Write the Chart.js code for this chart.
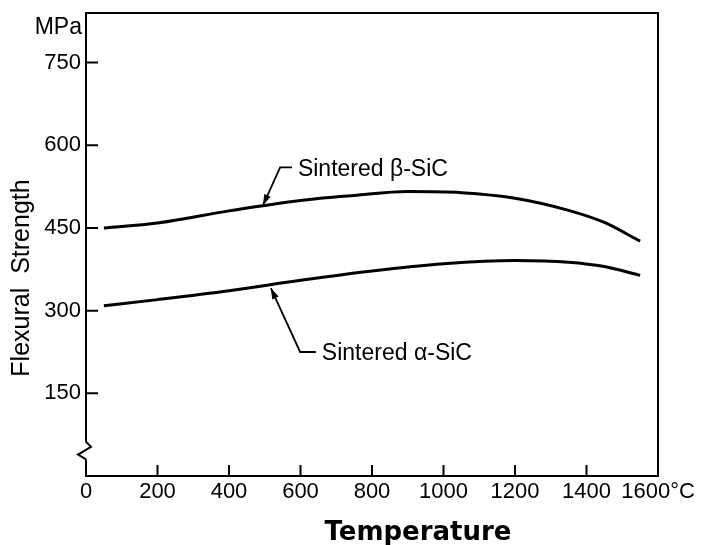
<!DOCTYPE html>
<html lang="en">
<head>
<meta charset="UTF-8">
<title>Flexural Strength vs Temperature</title>
<script src="https://cdn.jsdelivr.net/npm/chart.js"></script>
<style>
  html, body { margin: 0; padding: 0; background: #fff; }
</style>
</head>
<body>
<canvas id="grafico" width="701" height="545"></canvas>
<script>
// values: temperature in °C, flexural strength in MPa
const betaTemp = [50, 200, 400, 600, 750, 900, 1050, 1200, 1350, 1450, 1550];
const betaStrength = [450, 459, 481, 500, 509, 516, 514, 504, 482, 460, 426];
const alphaTemp = [50, 200, 400, 600, 800, 1000, 1200, 1350, 1450, 1550];
const alphaStrength = [309, 320, 336, 355, 372, 385, 391, 388, 380, 364];

const xTicks = [0, 200, 400, 600, 800, 1000, 1200, 1400, 1600];
const yTicks = [150, 300, 450, 600, 750];

// leader lines: [temperature, MPa] from the label to the arrow tip
const notes = [
  { text: 'Sintered β-SiC', path: [[576, 560], [543, 560], [495, 491]] },
  { text: 'Sintered α-SiC', path: [[643, 225], [599, 225], [517, 341]] }
];

const toPoints = (xs, ys) => xs.map((t, i) => ({ x: t, y: ys[i] }));

// box, inward ticks, axis break, notes and titles
const decor = {
  id: 'decor',
  afterDraw(chart) {
    const { ctx, chartArea: a, scales: { x, y } } = chart;
    ctx.save();
    ctx.strokeStyle = '#000';
    ctx.fillStyle = '#000';
    ctx.lineWidth = 2;
    ctx.strokeRect(a.left, a.top, a.right - a.left, a.bottom - a.top);

    ctx.beginPath();
    y.ticks.forEach(t => {
      const py = y.getPixelForValue(t.value);
      ctx.moveTo(a.left, py);
      ctx.lineTo(a.left + 12, py);
    });
    x.ticks.forEach(t => {
      if (t.value <= x.min || t.value >= x.max) return;
      const px = x.getPixelForValue(t.value);
      ctx.moveTo(px, a.bottom);
      ctx.lineTo(px, a.bottom - 11);
    });
    ctx.stroke();

    // zigzag break on the y axis
    const b1 = y.getPixelForValue(62), b2 = y.getPixelForValue(30);
    const h = b2 - b1;
    ctx.fillStyle = '#fff';
    ctx.fillRect(a.left - 3, b1, 6, h);
    ctx.fillStyle = '#000';
    ctx.beginPath();
    ctx.moveTo(a.left, b1);
    ctx.lineTo(a.left + 5, b1 + h * 0.28);
    ctx.lineTo(a.left - 8, b1 + h * 0.72);
    ctx.lineTo(a.left, b2);
    ctx.stroke();

    // annotations with arrows
    ctx.lineWidth = 1.8;
    ctx.font = '23px "Liberation Sans"';
    ctx.textBaseline = 'middle';
    ctx.textAlign = 'left';
    notes.forEach(n => {
      const p = n.path.map(([t, v]) => [x.getPixelForValue(t), y.getPixelForValue(v)]);
      ctx.beginPath();
      ctx.moveTo(p[0][0], p[0][1]);
      for (let i = 1; i < p.length; i++) ctx.lineTo(p[i][0], p[i][1]);
      ctx.stroke();
      const [tx, ty] = p[p.length - 1];
      const [fx, fy] = p[p.length - 2];
      const ang = Math.atan2(ty - fy, tx - fx);
      ctx.beginPath();
      ctx.moveTo(tx, ty);
      ctx.lineTo(tx - 11 * Math.cos(ang) + 3.5 * Math.sin(ang), ty - 11 * Math.sin(ang) - 3.5 * Math.cos(ang));
      ctx.lineTo(tx - 11 * Math.cos(ang) - 3.5 * Math.sin(ang), ty - 11 * Math.sin(ang) + 3.5 * Math.cos(ang));
      ctx.closePath();
      ctx.fill();
      ctx.fillText(n.text, p[0][0] + 6, p[0][1] + 2);
    });

    // titles
    ctx.font = '23px "Liberation Sans"';
    ctx.textAlign = 'right';
    ctx.fillText('MPa', 82, 28);

    ctx.save();
    ctx.translate(22, 278);
    ctx.rotate(-Math.PI / 2);
    ctx.textAlign = 'center';
    ctx.font = '25px "Liberation Sans"';
    ctx.fillText('Flexural  Strength', 0, 0);
    ctx.restore();

    ctx.textAlign = 'center';
    ctx.font = 'bold 26px "DejaVu Sans"';
    ctx.fillText('Temperature', 418, 533);
    ctx.restore();
  }
};

Chart.defaults.font.family = '"Liberation Sans", Arial, sans-serif';
Chart.defaults.color = '#000';

const lineStyle = {
  borderColor: '#000',
  borderWidth: 3,
  pointRadius: 0,
  fill: false,
  cubicInterpolationMode: 'monotone'
};

new Chart(document.getElementById('grafico'), {
  type: 'line',
  data: {
    datasets: [
      { label: 'Sintered β-SiC', data: toPoints(betaTemp, betaStrength), ...lineStyle },
      { label: 'Sintered α-SiC', data: toPoints(alphaTemp, alphaStrength), ...lineStyle }
    ]
  },
  options: {
    responsive: false,
    animation: false,
    devicePixelRatio: 1,
    layout: { padding: { left: 0, top: 13, right: 43, bottom: 0 } },
    plugins: { legend: { display: false }, tooltip: { enabled: false } },
    scales: {
      x: {
        type: 'linear',
        min: 0,
        max: 1600,
        afterBuildTicks: s => { s.ticks = xTicks.map(v => ({ value: v })); },
        afterFit: s => { s.height = 69; s.paddingLeft = 0; s.paddingRight = 0; },
        grid: { display: false, drawTicks: false },
        border: { display: false },
        ticks: {
          padding: 3,
          maxRotation: 0,
          autoSkip: false,
          font: { size: 22 },
          callback: v => (v === 1600 ? '1600°C' : v)
        }
      },
      y: {
        min: 0,
        max: 840,
        afterBuildTicks: s => { s.ticks = yTicks.map(v => ({ value: v })); },
        afterFit: s => { s.width = 86; s.paddingTop = 0; s.paddingBottom = 0; },
        grid: { display: false, drawTicks: false },
        border: { display: false },
        ticks: { padding: 5, font: { size: 22 } }
      }
    }
  },
  plugins: [decor]
});
</script>
</body>
</html>
